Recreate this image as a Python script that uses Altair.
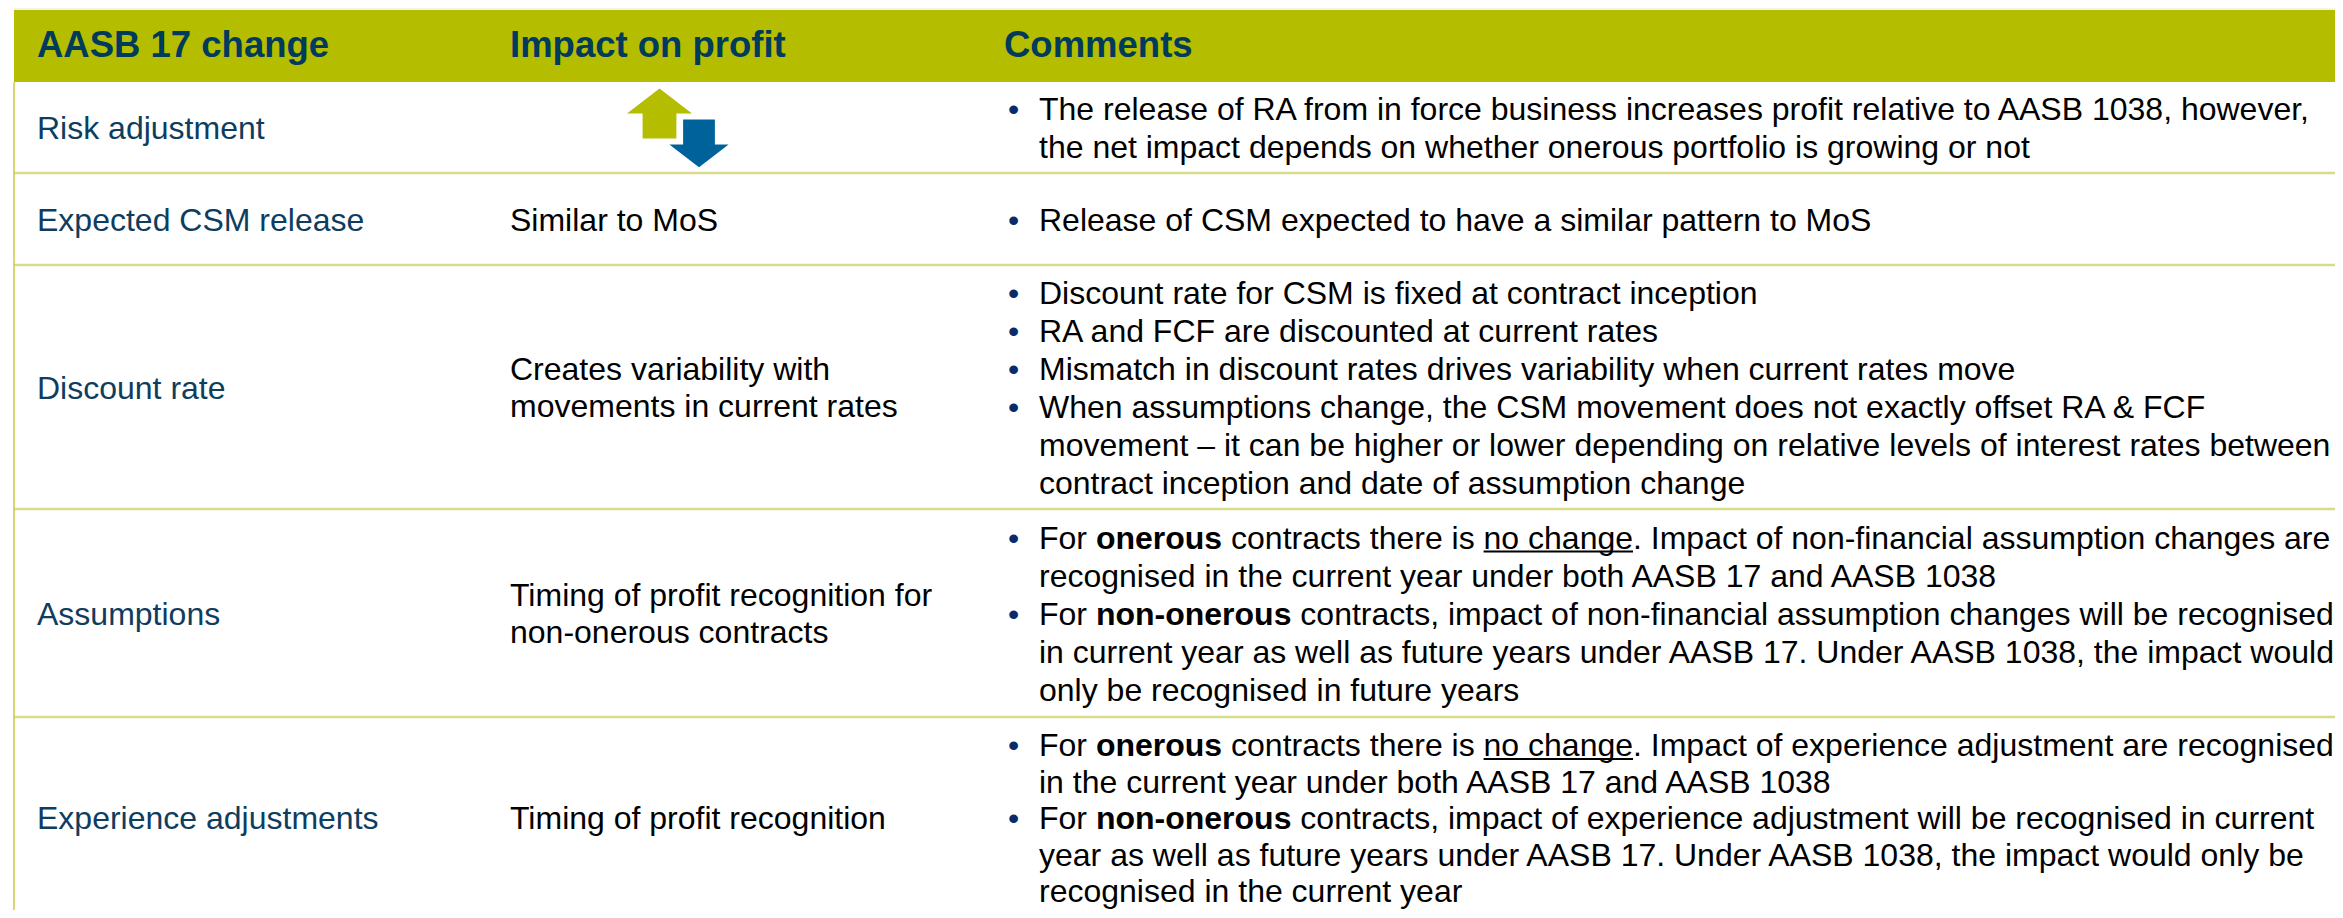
import re
import altair as alt
import pandas as pd

# ---------------- content ----------------
headers = ["AASB 17 change", "Impact on profit", "Comments"]
changes = ["Risk adjustment", "Expected CSM release", "Discount rate", "Assumptions", "Experience adjustments"]
impacts = [
    [],
    ["Similar to MoS"],
    ["Creates variability with", "movements in current rates"],
    ["Timing of profit recognition for", "non-onerous contracts"],
    ["Timing of profit recognition"],
]
impact_arrows = [["up", "down"], [], [], [], []]
comments = [
    [["The release of RA from in force business increases profit relative to AASB 1038, however,",
      "the net impact depends on whether onerous portfolio is growing or not"]],
    [["Release of CSM expected to have a similar pattern to MoS"]],
    [["Discount rate for CSM is fixed at contract inception"],
     ["RA and FCF are discounted at current rates"],
     ["Mismatch in discount rates drives variability when current rates move"],
     ["When assumptions change, the CSM movement does not exactly offset RA & FCF",
      "movement \u2013 it can be higher or lower depending on relative levels of interest rates between",
      "contract inception and date of assumption change"]],
    [["For **onerous** contracts there is __no change__. Impact of non-financial assumption changes are",
      "recognised in the current year under both AASB 17 and AASB 1038"],
     ["For **non-onerous** contracts, impact of non-financial assumption changes will be recognised",
      "in current year as well as future years under AASB 17. Under AASB 1038, the impact would",
      "only be recognised in future years"]],
    [["For **onerous** contracts there is __no change__. Impact of experience adjustment are recognised",
      "in the current year under both AASB 17 and AASB 1038"],
     ["For **non-onerous** contracts, impact of experience adjustment will be recognised in current",
      "year as well as future years under AASB 17. Under AASB 1038, the impact would only be",
      "recognised in the current year"]],
]

# ---------------- layout / style ----------------
W, H = 2327, 902
X0, Y0 = 8, 8
XMAX = X0 + W
HEAD_TOP, HEAD_BOT = 10, 82
ROW_BOTTOMS = [173, 265, 509, 717, 918]
ROW_LINE_H = [38, 38, 38, 38, 36.5]
TABLE_LEFT = 14
HEADER_X = [37, 510, 1004]
COL1_X, COL2_X = 37, 510
BULLET_X, TEXT_X = 1008, 1039
IMPACT_LINE_H = 37
Y_NUDGE = 1.5
FS, HFS = 32, 36.5
FONT = "Liberation Sans, Arial, sans-serif"
OLIVE = "#B5BD00"
BLUE = "#00629B"
NAVY_HEAD = "#003B5C"
NAVY_TEXT = "#0E3D5E"
BULLET_COL = "#0A2B6B"
ROW_LINE = "#D7DB8C"

# Arial / Liberation Sans advance widths (1/1000 em) for measured segments
REG = {" ": 278, "F": 611, "o": 556, "r": 333, "n": 556, "e": 556, "u": 556, "s": 500,
       "c": 500, "t": 278, "h": 556, "i": 222, "a": 556, "g": 556, "-": 333, ",": 278, ".": 278}
BOLD = {" ": 278, "o": 611, "n": 611, "e": 556, "r": 389, "u": 611, "s": 556, "-": 333}
SP = REG[" "] / 1000 * FS


def text_w(s, bold=False):
    tbl = BOLD if bold else REG
    return sum(tbl.get(ch, 556) for ch in s) / 1000 * FS


def segments(line):
    parts = re.split(r"(\*\*.+?\*\*|__.+?__)", line)
    x = TEXT_X
    out = []
    for p in parts:
        if not p:
            continue
        if p.startswith("**"):
            style, t = "bold", p[2:-2]
        elif p.startswith("__"):
            style, t = "under", p[2:-2]
        else:
            style, t = "reg", p
        lead = len(t) - len(t.lstrip(" "))
        trail = len(t) - len(t.rstrip(" "))
        w = text_w(t, style == "bold")
        out.append(dict(text=t.strip(), style=style, x=x + lead * SP, w=w - (lead + trail) * SP))
        x += w
    return out


tops = [HEAD_BOT] + ROW_BOTTOMS[:-1]
centers = [(t + b) / 2 + Y_NUDGE for t, b in zip(tops, ROW_BOTTOMS)]

header_rows = [dict(text=h, x=x, y=(HEAD_TOP + HEAD_BOT) / 2) for h, x in zip(headers, HEADER_X)]
col1_rows = [dict(text=c, x=COL1_X, y=cy) for c, cy in zip(changes, centers)]

reg_rows, bold_rows, under_rows, bullet_rows = [], [], [], []
for lines, cy in zip(impacts, centers):
    n = len(lines)
    for k, ln in enumerate(lines):
        reg_rows.append(dict(text=ln, x=COL2_X, y=cy + (k - (n - 1) / 2) * IMPACT_LINE_H))

for bullets, cy, lh in zip(comments, centers, ROW_LINE_H):
    n = sum(len(b) for b in bullets)
    k = 0
    for b in bullets:
        for j, ln in enumerate(b):
            y = cy + (k - (n - 1) / 2) * lh
            if j == 0:
                bullet_rows.append(dict(text="\u2022", x=BULLET_X, y=y))
            for seg in segments(ln):
                row = dict(text=seg["text"], x=seg["x"], y=y)
                if seg["style"] == "bold":
                    bold_rows.append(row)
                else:
                    reg_rows.append(row)
                if seg["style"] == "under":
                    under_rows.append(dict(x=seg["x"], x2=seg["x"] + seg["w"], y=y + 13))
            k += 1

arrow_rows = []
ARROW_OFF = {"up": (-19.5, -15.5), "down": (20, 14.5)}
for arrows, cy in zip(impact_arrows, centers):
    for a in arrows:
        dx, dy = ARROW_OFF[a]
        arrow_rows.append(dict(kind=a, x=679 + dx, y=cy + dy))

line_rows = [dict(x=TABLE_LEFT, x2=XMAX, y=b) for b in ROW_BOTTOMS[:-1]]

xs = alt.Scale(domain=[X0, XMAX], nice=False, zero=False)
ys = alt.Scale(domain=[Y0, Y0 + H], nice=False, zero=False, reverse=True)


def X(f="x"):
    return alt.X(f"{f}:Q", scale=xs, axis=None)


def Y(f="y"):
    return alt.Y(f"{f}:Q", scale=ys, axis=None)


header_band = alt.Chart(pd.DataFrame([dict(x=TABLE_LEFT, x2=XMAX, y=HEAD_TOP, y2=HEAD_BOT)])).mark_rect(
    color=OLIVE).encode(x=X(), x2="x2:Q", y=Y(), y2="y2:Q")
top_line = alt.Chart(pd.DataFrame([dict(x=TABLE_LEFT, x2=XMAX, y=HEAD_TOP - 1)])).mark_rule(
    color="#E6E6CC", strokeWidth=1).encode(x=X(), x2="x2:Q", y=Y())
row_lines = alt.Chart(pd.DataFrame(line_rows)).mark_rule(color=ROW_LINE, strokeWidth=2.5).encode(
    x=X(), x2="x2:Q", y=Y())
left_border = alt.Chart(pd.DataFrame([dict(x=TABLE_LEFT, y=HEAD_BOT, y2=Y0 + H)])).mark_rule(
    color="#C7CD45", strokeWidth=1.5).encode(x=X(), y=Y(), y2="y2:Q")

txt = dict(align="left", baseline="middle", font=FONT)
header_text = alt.Chart(pd.DataFrame(header_rows)).mark_text(
    fontSize=HFS, fontWeight="bold", color=NAVY_HEAD, **txt).encode(x=X(), y=Y(), text="text:N")
col1_text = alt.Chart(pd.DataFrame(col1_rows)).mark_text(
    fontSize=FS, color=NAVY_TEXT, **txt).encode(x=X(), y=Y(), text="text:N")
reg_text = alt.Chart(pd.DataFrame(reg_rows)).mark_text(
    fontSize=FS, color="#000000", **txt).encode(x=X(), y=Y(), text="text:N")
bold_text = alt.Chart(pd.DataFrame(bold_rows)).mark_text(
    fontSize=FS, fontWeight="bold", color="#000000", **txt).encode(x=X(), y=Y(), text="text:N")
bullet_text = alt.Chart(pd.DataFrame(bullet_rows)).mark_text(
    fontSize=FS, color=BULLET_COL, **txt).encode(x=X(), y=Y(), text="text:N")
underlines = alt.Chart(pd.DataFrame(under_rows)).mark_rule(color="#000000", strokeWidth=2).encode(
    x=X(), x2="x2:Q", y=Y())

UP_PATH = "M0,-0.77 L1,0 L0.52,0 L0.52,0.77 L-0.52,0.77 L-0.52,0 L-1,0 Z"
DOWN_PATH = "M-0.52,-0.77 L0.52,-0.77 L0.52,0 L1,0 L0,0.77 L-1,0 L-0.52,0 Z"
arrow_df = pd.DataFrame(arrow_rows)
up_arrow = alt.Chart(arrow_df).transform_filter(alt.datum.kind == "up").mark_point(
    shape=UP_PATH, size=4225, filled=True, fill=OLIVE, strokeWidth=0, opacity=1).encode(x=X(), y=Y())
down_arrow = alt.Chart(arrow_df).transform_filter(alt.datum.kind == "down").mark_point(
    shape=DOWN_PATH, size=4225, filled=True, fill=BLUE, stroke="#FFFFFF", strokeWidth=2, opacity=1).encode(
    x=X(), y=Y())

chart = alt.layer(
    header_band, top_line, row_lines, left_border, up_arrow, down_arrow,
    header_text, col1_text, reg_text, bold_text, bullet_text, underlines,
).properties(
    width=W, height=H, padding=0, autosize=alt.AutoSizeParams(type="none"), background="#FFFFFF"
).configure_view(stroke=None)

chart.save("out.html", embed_options={"renderer": "svg", "actions": False})
